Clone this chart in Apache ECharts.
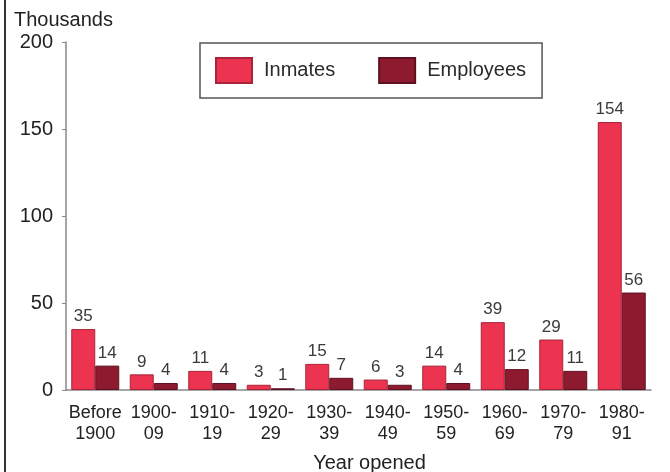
<!DOCTYPE html>
<html>
<head>
<meta charset="utf-8">
<script src="https://cdn.jsdelivr.net/npm/echarts@6/dist/echarts.min.js"></script>
<style>
  html, body { margin: 0; padding: 0; background: #fff; }
  #chart { width: 670px; height: 472px; }
</style>
</head>
<body>
<div id="chart"></div>
<script>
var years = ["Before\n1900", "1900-\n09", "1910-\n19", "1920-\n29", "1930-\n39", "1940-\n49", "1950-\n59", "1960-\n69", "1970-\n79", "1980-\n91"]
var inmates = [35, 9, 11, 3, 15, 6, 14, 39, 29, 154]
var employees = [14, 4, 4, 1, 7, 3, 4, 12, 11, 56]
var yTicks = [0, 50, 100, 150, 200]

var font = "Liberation Sans, Arial, sans-serif"
var chart = echarts.init(document.getElementById("chart"))

var option = {
    animation: false,
    textStyle: { fontFamily: font },
    grid: { left: 66, right: 19, top: 42, bottom: 82, outerBoundsMode: "none", containLabel: false },
    legend: {
        orient: "horizontal",
        left: 200, top: 43,
        padding: [14, 16, 14, 15],
        itemGap: 43,
        itemWidth: 36, itemHeight: 25,
        icon: "rect",
        borderColor: "#555", borderWidth: 1.5,
        textStyle: { fontSize: 20, color: "#2a2a2a", fontFamily: font, padding: [0, 0, 0, 7] },
        data: ["Inmates", "Employees"]
    },
    xAxis: {
        type: "category",
        data: years,
        name: "Year opened",
        nameLocation: "middle",
        nameGap: 63,
        nameTextStyle: { fontSize: 20, color: "#222", padding: [0, 0, 0, 22] },
        axisLine: { lineStyle: { color: "#888", width: 1.5 } },
        axisTick: { show: false },
        axisLabel: { fontSize: 18, color: "#222", lineHeight: 21, margin: 13, interval: 0 }
    },
    yAxis: {
        type: "value",
        min: 0, max: 200, interval: 50,
        name: "Thousands",
        nameLocation: "end",
        nameGap: 12,
        nameTextStyle: { fontSize: 20, color: "#222", align: "left", padding: [0, 0, 0, -52] },
        axisLine: { show: true, lineStyle: { color: "#888", width: 1.5 } },
        axisTick: { show: true, length: 4, lineStyle: { color: "#888" } },
        splitLine: { show: false },
        axisLabel: {
            fontSize: 20, color: "#222", margin: 13,
            formatter: function (v) { return yTicks.indexOf(v) >= 0 ? String(v) : "" }
        }
    },
    series: [
        {
            name: "Inmates", type: "bar", data: inmates,
            barGap: "0%", barCategoryGap: "18%",
            itemStyle: { color: "#ec3350", borderColor: "#a8243a", borderWidth: 1 },
            label: { show: true, position: "top", fontSize: 17, color: "#3a3a3a", distance: 4 }
        },
        {
            name: "Employees", type: "bar", data: employees,
            itemStyle: { color: "#8e1a30", borderColor: "#5e1020", borderWidth: 1 },
            label: { show: true, position: "top", fontSize: 17, color: "#3a3a3a", distance: 4 }
        }
    ],
    graphic: [
        { type: "line", shape: { x1: 5, y1: 0, x2: 5, y2: 472 }, style: { stroke: "#333", lineWidth: 2 } }
    ]
}
chart.setOption(option)
</script>
</body>
</html>
